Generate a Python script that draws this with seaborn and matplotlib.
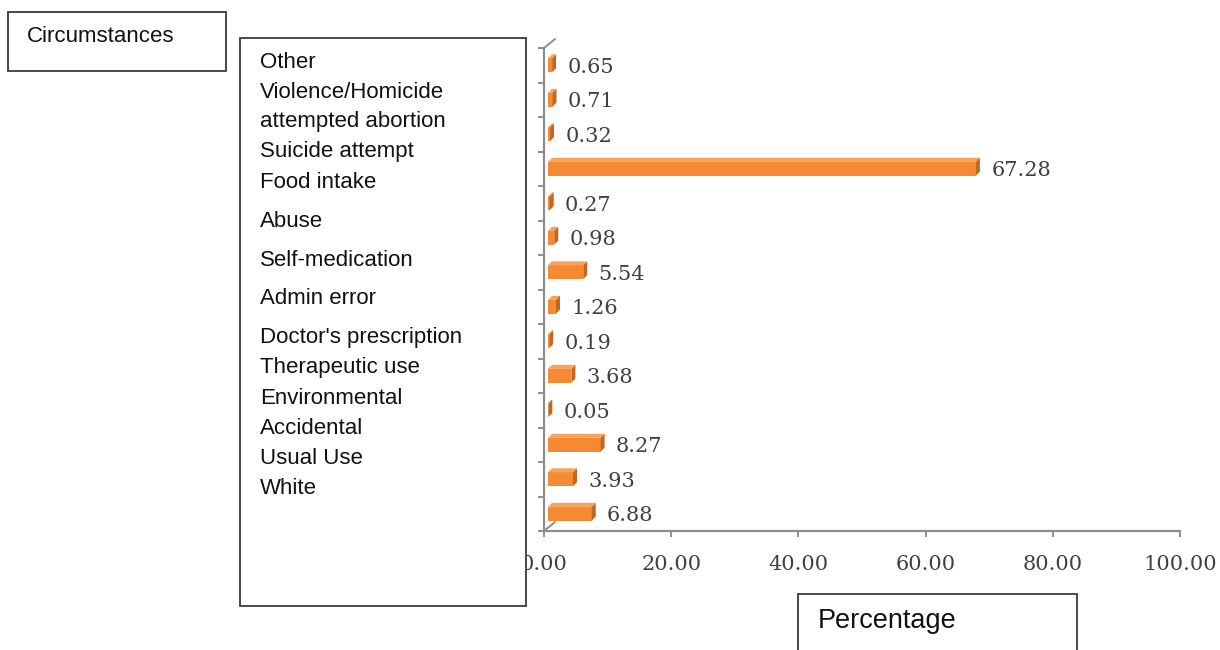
import matplotlib
matplotlib.use("Agg")
import matplotlib.pyplot as plt
import matplotlib.transforms as mtransforms
from matplotlib.patches import Polygon, Rectangle
from matplotlib.lines import Line2D
import numpy as np
import pandas as pd
import seaborn as sns

# Share of cases by circumstance (%), listed top to bottom
categories = [
    "Other", "Violence/Homicide", "attempted abortion", "Suicide attempt",
    "Food intake", "Abuse", "Self-medication", "Admin error",
    "Doctor's prescription", "Therapeutic use", "Environmental",
    "Accidental", "Usual Use", "White",
]
percentages = [0.65, 0.71, 0.32, 67.28, 0.27, 0.98, 5.54, 1.26,
               0.19, 3.68, 0.05, 8.27, 3.93, 6.88]
x_ticks = [0, 20, 40, 60, 80, 100]

FRONT = "#F58A33"
TOP = "#F8A25B"
SIDE = "#C2671F"
AXIS_GREY = "#8E8E8E"
TEXT_GREY = "#404040"
SERIF = "DejaVu Serif"

W, H = 1220, 650

sns.set_theme(style="white")
plt.rcParams["font.family"] = ["Liberation Sans", "DejaVu Sans"]

fig = plt.figure(figsize=(W / 100, H / 100), dpi=100)
fig.patch.set_facecolor("white")


def fx(px):
    return px / W


def fy(py):
    return 1 - py / H


ax = fig.add_axes([fx(544), fy(531), (1180 - 544) / W, (531 - 48) / H])

df = pd.DataFrame({"Circumstances": categories, "Percentage": percentages})
sns.barplot(data=df, x="Percentage", y="Circumstances", orient="h",
            color=FRONT, saturation=1, width=0.4, ax=ax, zorder=3,
            linewidth=0)

ax.set_xlim(0, 100)
ax.set_ylim(len(categories) - 0.5, -0.5)

# depth of the pseudo-3D faces, converted from pixels to data units
depth_px = 4.0
dx = depth_px * 100 / ax.bbox.width
dy = depth_px * len(categories) / ax.bbox.height

shift = ax.transData + mtransforms.ScaledTranslation(4 / 100, 0, fig.dpi_scale_trans)

bars = list(ax.patches)
for p, v in zip(bars, percentages):
    x0, w = p.get_x(), p.get_width()
    y0, h = p.get_y(), p.get_height()
    p.set_transform(shift)
    top = Polygon([(x0, y0), (x0 + w, y0), (x0 + w + dx, y0 - dy), (x0 + dx, y0 - dy)],
                  closed=True, facecolor=TOP, edgecolor="none", transform=shift, zorder=3)
    side = Polygon([(x0 + w, y0), (x0 + w, y0 + h), (x0 + w + dx, y0 + h - dy),
                    (x0 + w + dx, y0 - dy)],
                   closed=True, facecolor=SIDE, edgecolor="none", transform=shift, zorder=3)
    ax.add_patch(top)
    ax.add_patch(side)
    ax.annotate(f"{v:.2f}", xy=(x0 + w + dx, y0 + h / 2 + 0.06),
                xytext=(11, 0), textcoords="offset points",
                ha="left", va="center", fontsize=15, family=SERIF,
                color=TEXT_GREY)

# axes styling
for s in ("top", "right"):
    ax.spines[s].set_visible(False)
for s in ("left", "bottom"):
    ax.spines[s].set_color(AXIS_GREY)
    ax.spines[s].set_linewidth(1.6)

ax.set_xticks(x_ticks)
ax.set_xticklabels([f"{t:.2f}" for t in x_ticks], family=SERIF, fontsize=15,
                   color=TEXT_GREY)
ax.set_yticks(np.arange(-0.5, len(categories), 1))
ax.set_yticklabels([])
ax.tick_params(axis="x", direction="out", length=4.5, width=1.4,
               color=AXIS_GREY, pad=13, bottom=True)
ax.tick_params(axis="y", direction="out", length=4.5, width=1.4,
               color=AXIS_GREY, left=True)
ax.set_xlabel("")
ax.set_ylabel("")
ax.grid(False)

# short diagonals of the 3D frame at the floor and the top of the wall
ddx = 11 / ax.bbox.width
ddy = 9 / ax.bbox.height
for (ax0, ay0) in [(0, 0), (0, 1)]:
    ax.add_line(Line2D([ax0, ax0 + ddx], [ay0, ay0 + ddy], transform=ax.transAxes,
                       color=AXIS_GREY, lw=1.4, clip_on=False, zorder=2))

# framed text boxes
def box(x0, y0, x1, y1):
    r = Rectangle((fx(x0), fy(y1)), fx(x1) - fx(x0), fy(y0) - fy(y1),
                  transform=fig.transFigure, facecolor="white",
                  edgecolor="#3A3A3A", linewidth=1.3, zorder=10)
    fig.add_artist(r)


box(8, 12, 226, 71)
fig.text(fx(27), fy(36), "Circumstances", ha="left", va="center",
         fontsize=16, color="#111111", zorder=11)

box(240, 38, 526, 606)
label_rows = [62, 92, 122, 152, 182, 221, 260, 299, 338, 368, 398, 428, 458, 488]
for name, row in zip(categories, label_rows):
    fig.text(fx(260), fy(row), name, ha="left", va="center", fontsize=16,
             color="#111111", zorder=11)

box(798, 594, 1077, 665)
fig.text(fx(818), fy(621), "Percentage", ha="left", va="center",
         fontsize=19.5, color="#111111", zorder=11)

fig.savefig("out.png", dpi=100)
